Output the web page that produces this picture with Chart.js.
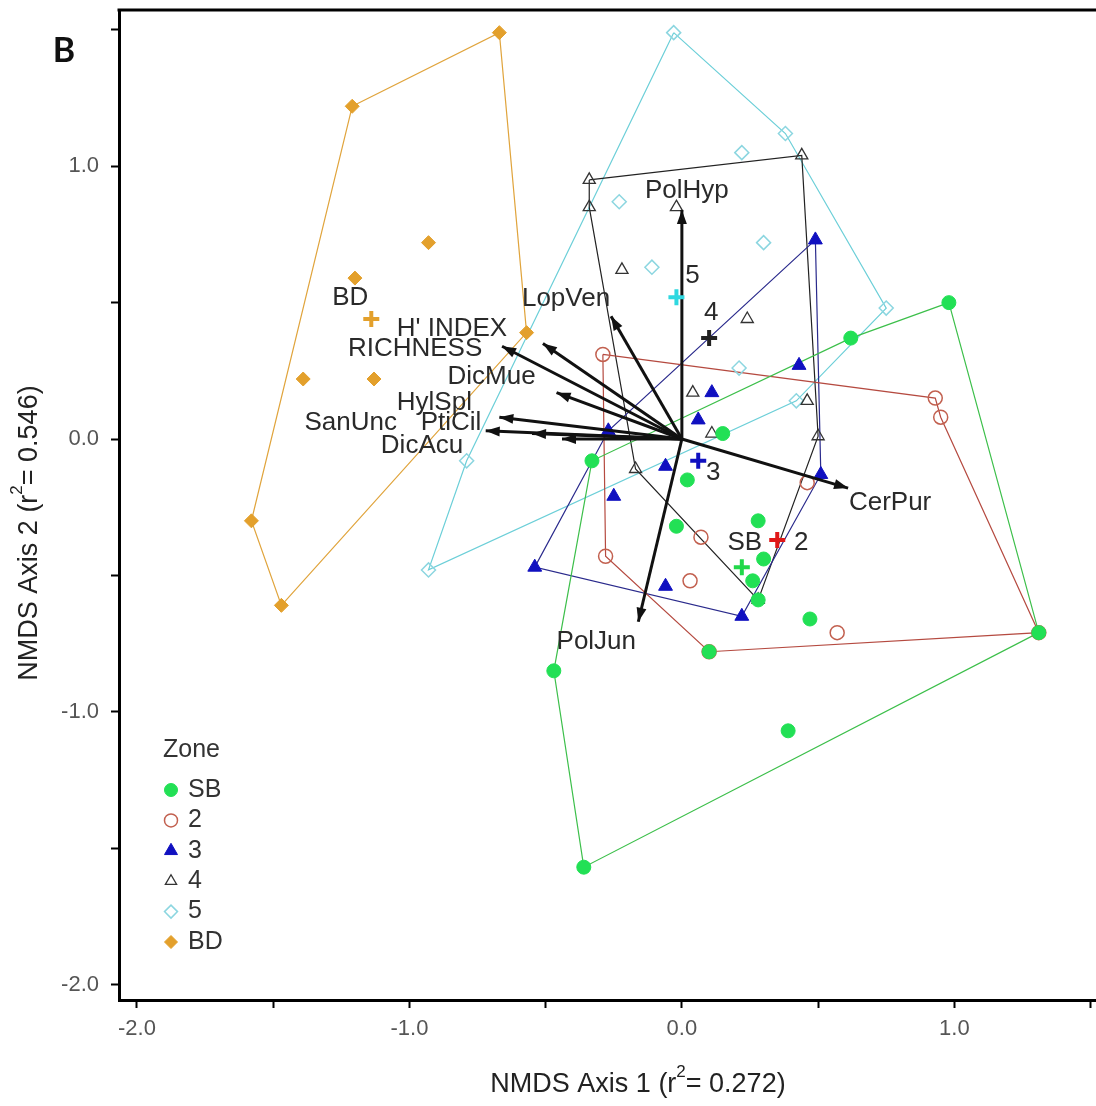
<!DOCTYPE html>
<html>
<head>
<meta charset="utf-8">
<script src="https://cdn.jsdelivr.net/npm/chart.js@4.4.0/dist/chart.umd.min.js"></script>
<style>
  html, body { margin: 0; padding: 0; background: #fff; overflow: hidden; }
  #wrap { width: 1096px; height: 1106px; position: relative; }
  #nmds { display: block; }
</style>
</head>
<body>
<div id="wrap"><canvas id="nmds"></canvas></div>
<script>
// Zonen (Legende)
const zoneNames = ["SB", "2", "3", "4", "5", "BD"];

// Punkte je Zone [x, y]
const zoneSB = [[0.98, 0.50], [0.62, 0.37], [0.15, 0.02], [-0.33, -0.08], [0.02, -0.15], [-0.02, -0.32],
  [0.28, -0.30], [0.30, -0.44], [0.26, -0.52], [0.28, -0.59], [0.47, -0.66], [1.31, -0.71],
  [0.10, -0.78], [-0.47, -0.85], [0.39, -1.07], [-0.36, -1.57]];
const zone2 = [[-0.29, 0.31], [0.93, 0.15], [0.95, 0.08], [0.46, -0.16], [0.07, -0.36], [-0.28, -0.43],
  [0.03, -0.52], [0.57, -0.71], [1.31, -0.71], [0.10, -0.78]];
const zone3 = [[0.49, 0.73], [0.43, 0.27], [0.11, 0.17], [0.06, 0.07], [-0.27, 0.03], [-0.06, -0.10],
  [0.51, -0.13], [-0.25, -0.21], [-0.54, -0.47], [-0.06, -0.54], [0.22, -0.65]];
const zone4 = [[-0.34, 0.95], [-0.34, 0.85], [0.44, 1.04], [-0.02, 0.85], [-0.22, 0.62], [0.24, 0.44],
  [0.04, 0.17], [0.46, 0.14], [0.11, 0.02], [0.50, 0.01], [-0.17, -0.11], [0.28, -0.59]];
const zone5 = [[-0.03, 1.49], [0.38, 1.12], [0.22, 1.05], [-0.23, 0.87], [0.30, 0.72], [-0.11, 0.63],
  [0.75, 0.48], [0.21, 0.26], [0.42, 0.14], [-0.79, -0.08], [-0.93, -0.48]];
const zoneBD = [[-0.67, 1.49], [-1.21, 1.22], [-0.93, 0.72], [-1.20, 0.59], [-0.57, 0.39], [-1.39, 0.22],
  [-1.13, 0.22], [-1.58, -0.30], [-1.47, -0.61]];

// Huellen (Indizes in die Punktlisten)
const hullSB = [0, 11, 15, 13, 3, 1];
const hull2 = [0, 1, 2, 8, 9, 5];
const hull3 = [0, 6, 10, 8, 4];
const hull4 = [0, 2, 9, 11, 10, 1];
const hull5 = [0, 1, 6, 8, 10, 9];
const hullBD = [1, 0, 4, 8, 7];

// Schwerpunkte je Zone
const centroidX = [0.22, 0.35, 0.06, 0.10, -0.02, -1.14];
const centroidY = [-0.47, -0.37, -0.08, 0.37, 0.52, 0.44];

// Umweltvektoren
const vectorNames = ["PolHyp", "LopVen", "H' INDEX", "RICHNESS", "DicMue", "HylSpl", "SanUnc", "PtiCil", "DicAcu", "CerPur", "PolJun"];
const vectorX = [0.00, -0.26, -0.51, -0.66, -0.46, -0.67, -0.72, -0.55, -0.44, 0.61, -0.16];
const vectorY = [0.84, 0.45, 0.35, 0.34, 0.17, 0.08, 0.03, 0.02, 0.00, -0.18, -0.67];

// Achsen
const xTicks = [-2, -1.5, -1, -0.5, 0, 0.5, 1, 1.5];
const yTicks = [-2, -1.5, -1, -0.5, 0, 0.5, 1, 1.5];

// ---------- Stil ----------
const fontFamily = "'Liberation Sans', Arial, sans-serif";
const zoneStyle = [
  { pointStyle: "circle", radius: 7, fill: "#22e055", stroke: "#22e055", bw: 1, hull: "#3cbf4a", cross: "#22d84a" },
  { pointStyle: "circle", radius: 7, fill: "rgba(0,0,0,0)", stroke: "#c2604f", bw: 1.5, hull: "#b54a40", cross: "#e01818" },
  { pointStyle: "triangle", radius: 8, fill: "#1010c0", stroke: "#1010c0", bw: 1, hull: "#2a2a8c", cross: "#1010c0" },
  { pointStyle: "triangle", radius: 7, fill: "rgba(0,0,0,0)", stroke: "#333", bw: 1.3, hull: "#222", cross: "#222" },
  { pointStyle: "rectRot", radius: 7, fill: "rgba(0,0,0,0)", stroke: "#8cd6e0", bw: 1.5, hull: "#6ccfd8", cross: "#2fd8e0" },
  { pointStyle: "rectRot", radius: 7, fill: "#e3a02c", stroke: "#e3a02c", bw: 1, hull: "#e0a43c", cross: "#e3a02c" },
];
// Abstand der Beschriftungen (Pixel) zur Pfeilspitze / zum Schwerpunkt
const vectorLabelOffset = [[5, -19], [-45, -17], [-91, -15], [-87, 3], [-65, -16], [-65, -14], [-135, -8], [-81, -11], [-140, 7], [42, 15], [-42, 20]];
const centroidLabelOffset = [[3, -24], [24, 3], [15, 12], [2, -25], [16, -21], [-21, -21]];

const zonePoints = [zoneSB, zone2, zone3, zone4, zone5, zoneBD];
const zoneHulls = [hullSB, hull2, hull3, hull4, hull5, hullBD];

const toXY = (p) => ({ x: p[0], y: p[1] });

const datasets = [];

// Huellen zuerst (liegen unten)
zonePoints.forEach(function (pts, i) {
  const ring = zoneHulls[i].map((k) => toXY(pts[k]));
  ring.push(ring[0]);
  datasets.push({
    label: "hull " + zoneNames[i],
    data: ring,
    showLine: true,
    borderColor: zoneStyle[i].hull,
    borderWidth: 1.2,
    pointRadius: 0,
    fill: false,
    order: 20,
  });
});

// Vektoren
vectorNames.forEach(function (name, i) {
  datasets.push({
    label: name,
    data: [{ x: 0, y: 0 }, { x: vectorX[i], y: vectorY[i] }],
    showLine: true,
    borderColor: "#111",
    borderWidth: 3,
    pointRadius: 0,
    order: 5,
  });
});

// Punkte
zonePoints.forEach(function (pts, i) {
  const s = zoneStyle[i];
  datasets.push({
    label: zoneNames[i],
    data: pts.map(toXY),
    showLine: false,
    pointStyle: s.pointStyle,
    pointRadius: s.radius,
    backgroundColor: s.fill,
    borderColor: s.stroke,
    borderWidth: s.bw,
    order: 10,
  });
});

// Schwerpunkte
zoneNames.forEach(function (name, i) {
  datasets.push({
    label: "centroid " + name,
    data: [{ x: centroidX[i], y: centroidY[i] }],
    showLine: false,
    pointStyle: "cross",
    pointRadius: 8,
    borderColor: zoneStyle[i].cross,
    borderWidth: 4,
    order: 1,
  });
});

function drawTitle(ctx, cx, cy, parts, rotate) {
  ctx.save();
  ctx.translate(cx, cy);
  if (rotate) ctx.rotate(-Math.PI / 2);
  ctx.fillStyle = "#222";
  ctx.textBaseline = "middle";
  ctx.textAlign = "left";
  let total = 0;
  parts.forEach(function (p) {
    ctx.font = (p.sup ? "17px " : "27px ") + fontFamily;
    p.w = ctx.measureText(p.t).width;
    total += p.w;
  });
  let x = -total / 2;
  parts.forEach(function (p) {
    ctx.font = (p.sup ? "17px " : "27px ") + fontFamily;
    ctx.fillText(p.t, x, p.sup ? -13 : 0);
    x += p.w;
  });
  ctx.restore();
}

const overlay = {
  id: "overlay",
  afterDatasetsDraw(chart) {
    const ctx = chart.ctx;
    const xs = chart.scales.x;
    const ys = chart.scales.y;
    const ox = xs.getPixelForValue(0);
    const oy = ys.getPixelForValue(0);

    // Pfeilspitzen
    ctx.save();
    ctx.fillStyle = "#111";
    vectorNames.forEach(function (name, i) {
      const tx = xs.getPixelForValue(vectorX[i]);
      const ty = ys.getPixelForValue(vectorY[i]);
      const a = Math.atan2(ty - oy, tx - ox);
      const len = 14, half = 5;
      ctx.beginPath();
      ctx.moveTo(tx, ty);
      ctx.lineTo(tx - len * Math.cos(a) + half * Math.sin(a), ty - len * Math.sin(a) - half * Math.cos(a));
      ctx.lineTo(tx - len * Math.cos(a) - half * Math.sin(a), ty - len * Math.sin(a) + half * Math.cos(a));
      ctx.closePath();
      ctx.fill();
    });
    ctx.restore();

    // Beschriftungen
    ctx.save();
    ctx.font = "26px " + fontFamily;
    ctx.fillStyle = "#2a2a2a";
    ctx.textAlign = "center";
    ctx.textBaseline = "middle";
    vectorNames.forEach(function (name, i) {
      const tx = xs.getPixelForValue(vectorX[i]);
      const ty = ys.getPixelForValue(vectorY[i]);
      ctx.fillText(name, tx + vectorLabelOffset[i][0], ty + vectorLabelOffset[i][1]);
    });
    zoneNames.forEach(function (name, i) {
      const cx = xs.getPixelForValue(centroidX[i]);
      const cy = ys.getPixelForValue(centroidY[i]);
      ctx.fillText(name, cx + centroidLabelOffset[i][0], cy + centroidLabelOffset[i][1]);
    });
    ctx.restore();
  },
  afterDraw(chart) {
    const ctx = chart.ctx;
    const area = chart.chartArea;

    // oberer Rahmen
    ctx.save();
    ctx.strokeStyle = "#000";
    ctx.lineWidth = 3;
    ctx.beginPath();
    ctx.moveTo(area.left - 1.5, area.top);
    ctx.lineTo(area.right, area.top);
    ctx.stroke();
    ctx.restore();

    // Legende
    ctx.save();
    ctx.font = "25px " + fontFamily;
    ctx.fillStyle = "#333";
    ctx.textAlign = "left";
    ctx.textBaseline = "middle";
    const lx = area.left + 44, ly = area.top + 740;
    ctx.fillText("Zone", lx, ly);
    zoneNames.forEach(function (name, i) {
      const s = zoneStyle[i];
      const y = ly + 40 + i * 30.4;
      ctx.save();
      ctx.fillStyle = s.fill;
      ctx.strokeStyle = s.stroke;
      ctx.lineWidth = s.bw;
      Chart.helpers.drawPoint(ctx, { pointStyle: s.pointStyle, radius: s.radius - 0.5, borderWidth: s.bw, rotation: 0 }, lx + 8, y);
      ctx.restore();
      ctx.fillStyle = "#333";
      ctx.fillText(name, lx + 25, y);
    });
    ctx.restore();

    // Achsentitel
    drawTitle(ctx, 638, 1085, [{ t: "NMDS Axis 1 (r" }, { t: "2", sup: true }, { t: "= 0.272)" }], false);
    drawTitle(ctx, 30, 533, [{ t: "NMDS Axis 2 (r" }, { t: "2", sup: true }, { t: "= 0.546)" }], true);

    // Panelbuchstabe
    ctx.save();
    ctx.font = "bold 34px Lato, 'Open Sans', sans-serif";
    ctx.fillStyle = "#111";
    ctx.textAlign = "center";
    ctx.textBaseline = "middle";
    ctx.fillText("B", 64, 51);
    ctx.restore();
  },
};

function tickLabel(v) {
  return Math.abs(v - Math.round(v)) < 1e-9 ? v.toFixed(1) : "";
}

const tickFont = { family: fontFamily, size: 22 };

new Chart(document.getElementById("nmds").getContext("2d"), {
  type: "scatter",
  data: { datasets: datasets },
  options: {
    responsive: true,
    maintainAspectRatio: false,
    animation: false,
    layout: { autoPadding: false, padding: { top: 10, left: 0, right: 0, bottom: 0 } },
    plugins: {
      legend: { display: false },
      tooltip: { enabled: false },
      title: { display: false },
    },
    scales: {
      x: {
        type: "linear",
        min: -2.066,
        max: 1.52,
        afterFit(scale) {
          scale.height = 106;
          scale.paddingLeft = 0;
          scale.paddingRight = 0;
        },
        afterBuildTicks(scale) { scale.ticks = xTicks.map((v) => ({ value: v })); },
        ticks: { callback: tickLabel, autoSkip: false, maxRotation: 0, color: "#555", font: tickFont, padding: 8 },
        grid: { drawOnChartArea: false, drawTicks: true, tickLength: 8, tickColor: "#000", tickWidth: 2 },
        border: { color: "#000", width: 3 },
      },
      y: {
        type: "linear",
        min: -2.057,
        max: 1.573,
        afterFit(scale) {
          scale.width = 119;
          scale.paddingTop = 0;
          scale.paddingBottom = 0;
        },
        afterBuildTicks(scale) { scale.ticks = yTicks.map((v) => ({ value: v })); },
        ticks: { callback: tickLabel, autoSkip: false, color: "#555", font: tickFont, padding: 12 },
        grid: { drawOnChartArea: false, drawTicks: true, tickLength: 8, tickColor: "#000", tickWidth: 2 },
        border: { color: "#000", width: 3 },
      },
    },
  },
  plugins: [overlay],
});
</script>
</body>
</html>
